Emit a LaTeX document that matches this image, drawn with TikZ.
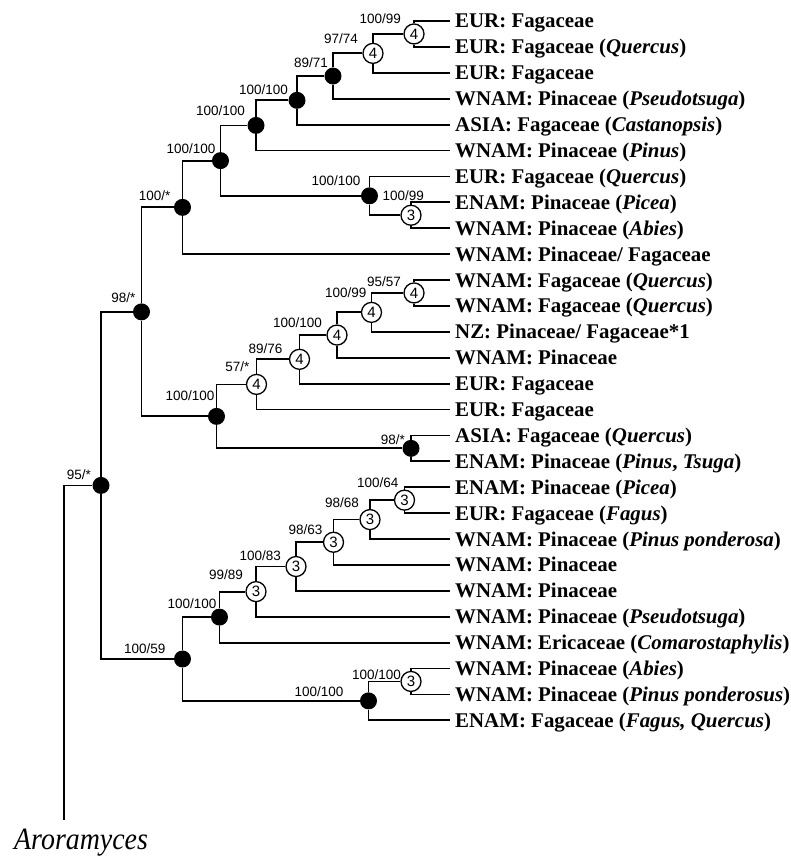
\documentclass[tikz,border=0pt]{standalone}
\usepackage{fontspec}
\setmainfont{Liberation Serif}
\newfontfamily\supfont{Liberation Sans}
\usetikzlibrary{calc}
\begin{document}
\begin{tikzpicture}[x=1pt,y=-1pt,
  edge/.style={line width=1.8pt, line join=miter},
  fnode/.style={circle, fill=black, minimum size=17pt, inner sep=0pt},
  onode/.style={circle, draw, line width=1.3pt, fill=white, minimum size=20pt, inner sep=0pt, font=\supfont\fontsize{15}{15}\selectfont},
  sup/.style={anchor=east, inner sep=0pt, font=\supfont\fontsize{13.5}{13.5}\selectfont},
  leaf/.style={anchor=base west, inner sep=0pt, font=\bfseries\fontsize{20.9}{24}\selectfont}]
\useasboundingbox (0,0) rectangle (790,859);

% leaf end points
\coordinate (l1) at (450,21);
\coordinate (l2) at (450,46.9);
\coordinate (l3) at (450,72.8);
\coordinate (l4) at (450,98.7);
\coordinate (l5) at (450,124.6);
\coordinate (l6) at (450,150.5);
\coordinate (l7) at (450,176.4);
\coordinate (l8) at (450,202.3);
\coordinate (l9) at (450,228.2);
\coordinate (l10) at (450,254.1);
\coordinate (l11) at (450,280);
\coordinate (l12) at (450,305.9);
\coordinate (l13) at (450,331.8);
\coordinate (l14) at (450,357.7);
\coordinate (l15) at (450,383.6);
\coordinate (l16) at (450,409.5);
\coordinate (l17) at (450,435.4);
\coordinate (l18) at (450,461.3);
\coordinate (l19) at (450,487.2);
\coordinate (l20) at (450,513.1);
\coordinate (l21) at (450,539);
\coordinate (l22) at (450,564.9);
\coordinate (l23) at (450,590.8);
\coordinate (l24) at (450,616.7);
\coordinate (l25) at (450,642.6);
\coordinate (l26) at (450,668.5);
\coordinate (l27) at (450,694.4);
\coordinate (l28) at (450,720.3);

% leaf labels
\node[leaf] (t1) at (455,28) {EUR: Fagaceae};
\node[leaf] (t2) at (455,53.9) {EUR: Fagaceae (\textit{Quercus})};
\node[leaf] (t3) at (455,79.8) {EUR: Fagaceae};
\node[leaf] (t4) at (455,105.7) {WNAM: Pinaceae (\textit{Pseudotsuga})};
\node[leaf] (t5) at (455,131.6) {ASIA: Fagaceae (\textit{Castanopsis})};
\node[leaf] (t6) at (455,157.5) {WNAM: Pinaceae (\textit{Pinus})};
\node[leaf] (t7) at (455,183.4) {EUR: Fagaceae (\textit{Quercus})};
\node[leaf] (t8) at (455,209.3) {ENAM: Pinaceae (\textit{Picea})};
\node[leaf] (t9) at (455,235.2) {WNAM: Pinaceae (\textit{Abies})};
\node[leaf] (t10) at (455,261.1) {WNAM: Pinaceae/ Fagaceae};
\node[leaf] (t11) at (455,287) {WNAM: Fagaceae (\textit{Quercus})};
\node[leaf] (t12) at (455,312.9) {WNAM: Fagaceae (\textit{Quercus})};
\node[leaf] (t13) at (455,338.8) {NZ: Pinaceae/ Fagaceae*1};
\node[leaf] (t14) at (455,364.7) {WNAM: Pinaceae};
\node[leaf] (t15) at (455,390.6) {EUR: Fagaceae};
\node[leaf] (t16) at (455,416.5) {EUR: Fagaceae};
\node[leaf] (t17) at (455,442.4) {ASIA: Fagaceae (\textit{Quercus})};
\node[leaf] (t18) at (455,468.3) {ENAM: Pinaceae (\textit{Pinus}, \textit{Tsuga})};
\node[leaf] (t19) at (455,494.2) {ENAM: Pinaceae (\textit{Picea})};
\node[leaf] (t20) at (455,520.1) {EUR: Fagaceae (\textit{Fagus})};
\node[leaf] (t21) at (455,546) {WNAM: Pinaceae (\textit{Pinus ponderosa})};
\node[leaf] (t22) at (455,571.9) {WNAM: Pinaceae};
\node[leaf] (t23) at (455,597.8) {WNAM: Pinaceae};
\node[leaf] (t24) at (455,623.7) {WNAM: Pinaceae (\textit{Pseudotsuga})};
\node[leaf] (t25) at (455,649.6) {WNAM: Ericaceae (\textit{Comarostaphylis})};
\node[leaf] (t26) at (455,675.5) {WNAM: Pinaceae (\textit{Abies})};
\node[leaf] (t27) at (455,701.4) {WNAM: Pinaceae (\textit{Pinus ponderosus})};
\node[leaf] (t28) at (455,727.3) {ENAM: Fagaceae (\textit{Fagus, Quercus})};

% internal nodes
\node[onode] (A) at (414,33.95) {4};
\node[onode] (B) at (373,53.38) {4};
\node[fnode] (C) at (333,76.04) {};
\node[fnode] (D) at (297,100.32) {};
\node[fnode] (E) at (256,125.41) {};
\node[onode] (Q) at (411,215.25) {3};
\node[fnode] (H) at (369.5,195.83) {};
\node[fnode] (F) at (220.5,160.62) {};
\node[fnode] (G) at (182.5,207.36) {};
\node[onode] (O) at (414,292.95) {4};
\node[onode] (N) at (371.5,312.38) {4};
\node[onode] (M) at (337,335.04) {4};
\node[onode] (nL) at (299.5,359.32) {4};
\node[onode] (K) at (256.5,384.41) {4};
\node[fnode] (P) at (411,448.35) {};
\node[fnode] (J) at (216.5,416.38) {};
\node[fnode] (I) at (141.5,311.87) {};
\node[onode] (Z) at (404.5,500.15) {3};
\node[onode] (Y) at (370,519.58) {3};
\node[onode] (X) at (333.5,542.24) {3};
\node[onode] (W) at (296,566.52) {3};
\node[onode] (V) at (256,591.61) {3};
\node[fnode] (T) at (219.5,617.1) {};
\node[onode] (AA) at (411,681.45) {3};
\node[fnode] (U) at (368.5,700.88) {};
\node[fnode] (S) at (182.5,658.99) {};
\node[fnode] (R) at (101,485.43) {};
\coordinate (root) at (64,485.43);
\coordinate (rootend) at (64,820);

% branches
\draw[edge] (A) |- (l1);  \draw[edge] (A) |- (l2);
\draw[edge] (B) |- (A);   \draw[edge] (B) |- (l3);
\draw[edge] (C) |- (B);   \draw[edge] (C) |- (l4);
\draw[edge] (D) |- (C);   \draw[edge] (D) |- (l5);
\draw[edge] (E) |- (D);   \draw[edge] (E) |- (l6);
\draw[edge] (Q) |- (l8);  \draw[edge] (Q) |- (l9);
\draw[edge] (H) |- (l7);  \draw[edge] (H) |- (Q);
\draw[edge] (F) |- (E);   \draw[edge] (F) |- (H);
\draw[edge] (G) |- (F);   \draw[edge] (G) |- (l10);
\draw[edge] (O) |- (l11); \draw[edge] (O) |- (l12);
\draw[edge] (N) |- (O);   \draw[edge] (N) |- (l13);
\draw[edge] (M) |- (N);   \draw[edge] (M) |- (l14);
\draw[edge] (nL) |- (M);  \draw[edge] (nL) |- (l15);
\draw[edge] (K) |- (nL);  \draw[edge] (K) |- (l16);
\draw[edge] (P) |- (l17); \draw[edge] (P) |- (l18);
\draw[edge] (J) |- (K);   \draw[edge] (J) |- (P);
\draw[edge] (I) |- (G);   \draw[edge] (I) |- (J);
\draw[edge] (Z) |- (l19); \draw[edge] (Z) |- (l20);
\draw[edge] (Y) |- (Z);   \draw[edge] (Y) |- (l21);
\draw[edge] (X) |- (Y);   \draw[edge] (X) |- (l22);
\draw[edge] (W) |- (X);   \draw[edge] (W) |- (l23);
\draw[edge] (V) |- (W);   \draw[edge] (V) |- (l24);
\draw[edge] (T) |- (V);   \draw[edge] (T) |- (l25);
\draw[edge] (AA) |- (l26); \draw[edge] (AA) |- (l27);
\draw[edge] (U) |- (AA);  \draw[edge] (U) |- (l28);
\draw[edge] (S) |- (T);   \draw[edge] (S) |- (U);
\draw[edge] (R) |- (I);   \draw[edge] (R) |- (S);
\draw[edge] (root) -- (R);
\draw[edge] (root) -- (rootend);

% support values
\node[sup] (sA) at ($(A)+(-13,-15)$) {100/99};
\node[sup] (sB) at ($(B)+(-15,-15)$) {97/74};
\node[sup] (sC) at ($(C)+(-5,-13)$) {89/71};
\node[sup] (sD) at ($(D)+(-9,-11)$) {100/100};
\node[sup] (sE) at ($(E)+(-11,-15)$) {100/100};
\node[sup] (sF) at ($(F)+(-5,-12)$) {100/100};
\node[sup] (sG) at ($(G)+(-12,-12)$) {100/*};
\node[sup] (sH) at ($(H)+(-9,-15)$) {100/100};
\node[sup] (sQ) at ($(Q)+(13,-20)$) {100/99};
\node[sup] (sI) at ($(I)+(-6,-14)$) {98/*};
\node[sup] (sJ) at ($(J)+(-2,-21)$) {100/100};
\node[sup] (sK) at ($(K)+(-7,-18)$) {57/*};
\node[sup] (sL) at ($(nL)+(-17,-11)$) {89/76};
\node[sup] (sM) at ($(M)+(-15,-12)$) {100/100};
\node[sup] (sN) at ($(N)+(-5,-20)$) {100/99};
\node[sup] (sO) at ($(O)+(-13,-11)$) {95/57};
\node[sup] (sP) at ($(P)+(-6,-9)$) {98/*};
\node[sup] (sR) at ($(R)+(-10,-11)$) {95/*};
\node[sup] (sS) at ($(S)+(-17,-10)$) {100/59};
\node[sup] (sT) at ($(T)+(-3,-13)$) {100/100};
\node[sup] (sV) at ($(V)+(-13,-17)$) {99/89};
\node[sup] (sW) at ($(W)+(-15,-11)$) {100/83};
\node[sup] (sX) at ($(X)+(-11,-13)$) {98/63};
\node[sup] (sY) at ($(Y)+(-11,-17)$) {98/68};
\node[sup] (sZ) at ($(Z)+(-6,-17)$) {100/64};
\node[sup] (sU) at ($(U)+(-25,-9)$) {100/100};
\node[sup] (sAA) at ($(AA)+(-10,-7)$) {100/100};

% outgroup
\node[anchor=base west, inner sep=0pt, font=\itshape\fontsize{31}{34}\selectfont] (aro) at (14,849) {\scalebox{0.9}[1]{Aroramyces}};
\end{tikzpicture}
\end{document}
